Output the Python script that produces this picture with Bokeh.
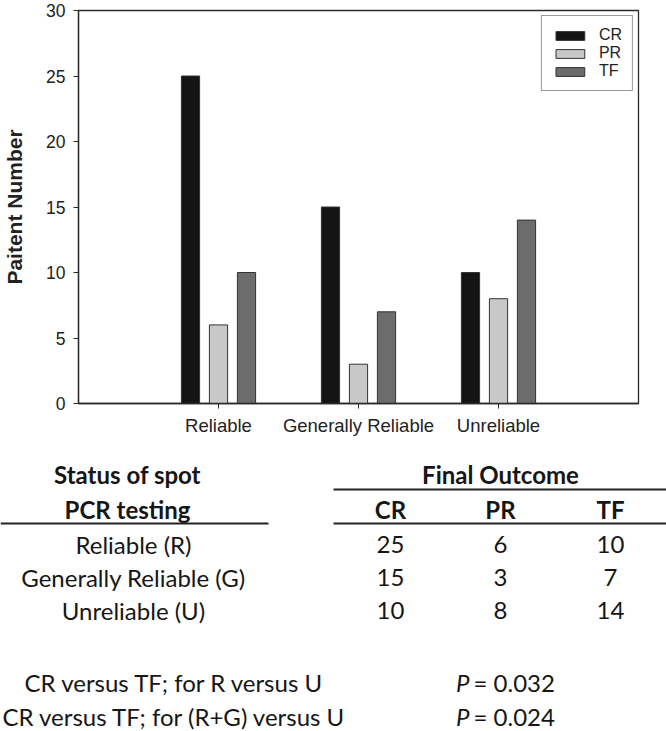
import numpy as np
from bokeh.plotting import figure
from bokeh.models import Range1d, FixedTicker, Legend, LegendItem, ColumnDataSource
from bokeh.layouts import column
from bokeh.embed import file_html
from bokeh.resources import INLINE
from bokeh.core.properties import value

# ---------------- data ----------------
categories = ["Reliable", "Generally Reliable", "Unreliable"]
row_labels = ["Reliable (R)", "Generally Reliable (G)", "Unreliable (U)"]
outcomes = ["CR", "PR", "TF"]
cr = [25, 15, 10]
pr = [6, 3, 8]
tf = [10, 7, 14]
y_ticks = [0, 5, 10, 15, 20, 25, 30]
comparisons = ["CR versus TF; for R versus U", "CR versus TF; for (R+G) versus U"]
p_values = [0.032, 0.024]

# ---------------- style / layout ----------------
series = [cr, pr, tf]
colors = ["#141414", "#c8c8c8", "#6c6c6c"]
offsets = [-0.2, 0.0, 0.2]
AX = "#2a2a2a"
CHART_FONT = "Liberation Sans"
TABLE_FONT = "Lato"
W, H1, H2 = 666, 440, 291

# ---------------- bar chart ----------------
p = figure(width=W, height=H1, x_range=Range1d(0, 4), y_range=Range1d(0, 30),
           output_backend="svg", toolbar_location=None,
           min_border_left=74, min_border_right=28, min_border_top=10, min_border_bottom=37)
p.frame_align = False
p.grid.visible = False
p.outline_line_color = AX
p.outline_line_width = 1.3
p.background_fill_color = "white"
p.border_fill_color = "white"

pos = np.arange(1, len(categories) + 1)
items = []
for name, vals, col, off in zip(outcomes, series, colors, offsets):
    src = ColumnDataSource(dict(x=pos + off, top=vals))
    r = p.vbar(x="x", top="top", bottom=0, width=0.13, source=src,
               fill_color=col, line_color="#333333", line_width=1)
    items.append(LegendItem(label=name, renderers=[r]))

p.xaxis.ticker = FixedTicker(ticks=list(pos))
p.xaxis.major_label_overrides = {int(i): c for i, c in zip(pos, categories)}
p.yaxis.ticker = FixedTicker(ticks=y_ticks)
for ax in (p.xaxis[0], p.yaxis[0]):
    ax.minor_tick_line_color = None
    ax.major_tick_in = 0
    ax.major_tick_out = 5
    ax.major_tick_line_color = AX
    ax.axis_line_color = AX
    ax.axis_line_width = 1.3
    ax.major_label_text_font = CHART_FONT
    ax.major_label_text_color = "#222222"
p.xaxis.major_label_standoff = 6
p.yaxis.major_label_standoff = 8
p.xaxis.major_label_text_font_size = "18.5px"
p.yaxis.major_label_text_font_size = "17.5px"
p.yaxis.axis_label = "Paitent Number"
p.yaxis.axis_label_text_font = CHART_FONT
p.yaxis.axis_label_text_font_style = "bold"
p.yaxis.axis_label_text_font_size = "21px"
p.yaxis.axis_label_text_color = "#222222"
p.yaxis.axis_label_standoff = 17

legend = Legend(items=items, location="top_right", border_line_color="#333333",
                border_line_width=1.5, padding=10, spacing=0, margin=5,
                glyph_width=36, glyph_height=11, label_height=14, label_standoff=11,
                label_text_font=CHART_FONT, label_text_font_size="16px",
                label_text_color="#222222", background_fill_alpha=1.0)
p.add_layout(legend)

# ---------------- table (x, y in page pixels) ----------------
t = figure(width=W, height=H2, x_range=Range1d(0, W), y_range=Range1d(H1 + H2, H1),
           output_backend="svg", toolbar_location=None, min_border=0,
           x_axis_location=None, y_axis_location=None)
t.frame_align = False
t.grid.visible = False
t.outline_line_color = None
t.background_fill_color = "white"
t.border_fill_color = "white"

FS = "24px"
TXT = "#161616"

def txt(xs, ys, texts, style="normal", align="center"):
    t.text(x=xs, y=ys, text=texts, text_font=value(TABLE_FONT), text_font_size=FS,
           text_font_style=style, text_align=align, text_baseline="middle", text_color=TXT)

left_x = 133
col_x = [390, 500, 610]
row_y = [544, 577, 610]
p_y = [682, 716]

txt([127, 127, 500], [474, 509, 474], ["Status of spot", "PCR testing", "Final Outcome"], "bold")
txt(col_x, [509] * 3, outcomes, "bold")
t.segment(x0=[333, 0, 333], y0=[489, 523, 523], x1=[666, 268, 666], y1=[489, 523, 523],
          line_color="#222222", line_width=2)

txt([left_x] * 3, row_y, row_labels)
for cx, vals in zip(col_x, series):
    txt([cx] * 3, row_y, [str(v) for v in vals])

txt([174] * 2, p_y, comparisons)
txt([469] * 2, p_y, ["P"] * 2, "italic", "right")
txt([473] * 2, p_y, ["= " + f"{v:.3f}" for v in p_values], "normal", "left")

layout = column(p, t, spacing=0)
open("out.html", "w").write(file_html(layout, INLINE))
